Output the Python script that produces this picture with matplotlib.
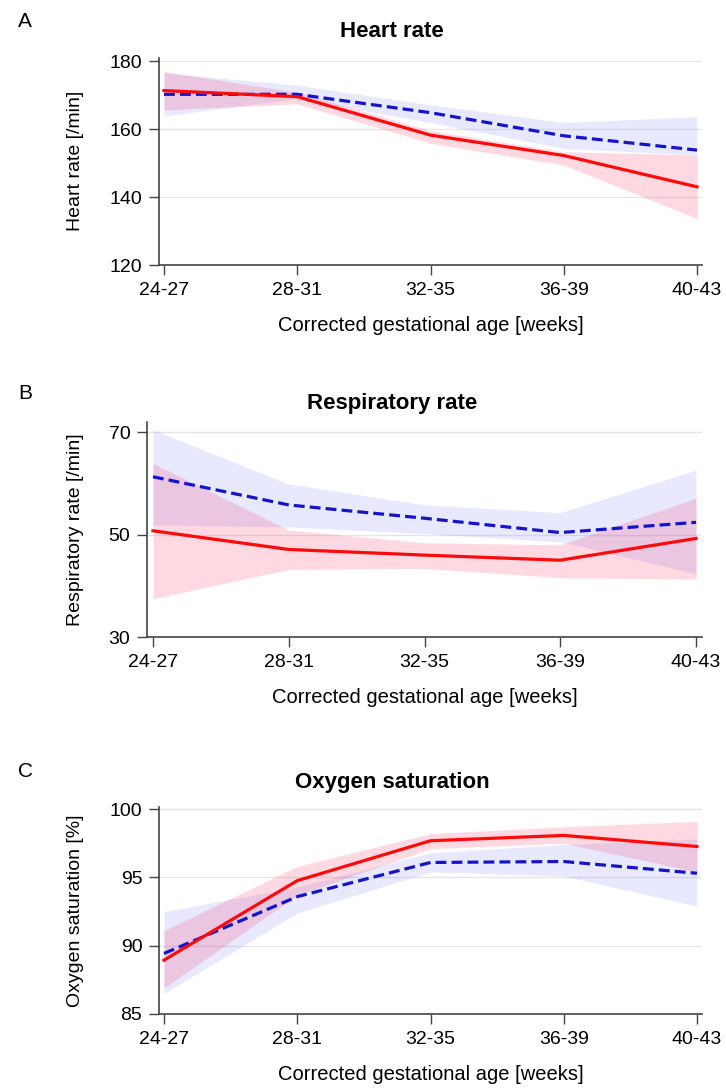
import numpy as np
import matplotlib.pyplot as plt

plt.rcParams['font.family'] = ['Liberation Sans', 'DejaVu Sans']

# Données
ages = ['24-27', '28-31', '32-35', '36-39', '40-43']

hr_red = [171.3, 169.5, 158.2, 152.2, 143.0]
hr_red_lo = [165.6, 167.4, 155.8, 149.4, 133.7]
hr_red_hi = [176.9, 170.8, 159.5, 153.3, 152.4]
hr_blue = [170.2, 170.2, 164.8, 158.0, 153.8]
hr_blue_lo = [163.8, 169.0, 161.9, 154.3, 152.4]
hr_blue_hi = [176.5, 172.9, 167.1, 161.9, 163.6]

rr_red = [50.75, 47.1, 46.0, 45.0, 49.25]
rr_red_lo = [37.5, 43.2, 43.4, 41.6, 41.3]
rr_red_hi = [63.9, 50.9, 48.4, 48.0, 57.1]
rr_blue = [61.3, 55.8, 53.2, 50.4, 52.4]
rr_blue_lo = [51.9, 51.5, 50.2, 48.6, 42.4]
rr_blue_hi = [70.5, 59.9, 55.8, 54.3, 62.6]

sat_red = [88.94, 94.76, 97.68, 98.07, 97.26]
sat_red_lo = [86.9, 93.7, 97.1, 97.5, 95.4]
sat_red_hi = [91.1, 95.8, 98.2, 98.7, 99.1]
sat_blue = [89.43, 93.59, 96.09, 96.16, 95.30]
sat_blue_lo = [86.5, 92.4, 95.4, 95.1, 92.9]
sat_blue_hi = [92.5, 94.3, 96.8, 97.4, 97.8]

W, H = 726, 1088
fig = plt.figure(figsize=(W / 100, H / 100), dpi=100)

# (lettre, titre, ylabel, [gauche, droite, haut, bas] en px, ylim, yticks, xlim gauche, baselines lettre/titre)
panels = [
    ('A', 'Heart rate', 'Heart rate [/min]', (159, 702, 57.6, 265), (120, 181), [120, 140, 160, 180], -0.0375,
     hr_red, hr_red_lo, hr_red_hi, hr_blue, hr_blue_lo, hr_blue_hi, 27, 37),
    ('B', 'Respiratory rate', 'Respiratory rate [/min]', (147, 702, 422, 637), (30, 72), [30, 50, 70], -0.044,
     rr_red, rr_red_lo, rr_red_hi, rr_blue, rr_blue_lo, rr_blue_hi, 399, 409),
    ('C', 'Oxygen saturation', 'Oxygen saturation [%]', (159, 702, 807, 1014), (85, 100.15), [85, 90, 95, 100], -0.0375,
     sat_red, sat_red_lo, sat_red_hi, sat_blue, sat_blue_lo, sat_blue_hi, 777, 788),
]

x = np.arange(len(ages))
for (lettre, titre, ylab, box, ylim, yt, x0,
     r, rlo, rhi, b, blo, bhi, y_lettre, y_titre) in panels:
    l, rgt, top, bot = box
    ax = fig.add_axes([l / W, 1 - bot / H, (rgt - l) / W, (bot - top) / H])
    ax.fill_between(x, blo, bhi, color='#4646ff', alpha=0.12, lw=0)
    ax.fill_between(x, rlo, rhi, color='#ff1f50', alpha=0.17, lw=0)
    ax.plot(x, b, color='#1414c8', lw=2.3, ls=(0, (3.4, 1.6)))
    ax.plot(x, r, color='#ff0a0a', lw=2.3)
    ax.set_xlim(x0, 4 - x0)
    ax.set_ylim(*ylim)
    ax.set_yticks(yt)
    ax.set_xticks(x)
    ax.set_xticklabels(ages)
    ax.grid(axis='y', color='#e6e6e6', lw=1)
    ax.set_axisbelow(True)
    for s in ['top', 'right']:
        ax.spines[s].set_visible(False)
    for s in ['left', 'bottom']:
        ax.spines[s].set_color('#444444')
        ax.spines[s].set_linewidth(1.2)
    ax.tick_params(colors='#444444', labelcolor='black', labelsize=14, length=7, width=1, pad=5)
    ax.set_xlabel('Corrected gestational age [weeks]', fontsize=14.5, va='top')
    ax.xaxis.set_label_coords(0.5, -51 / (bot - top))
    # ylabel et titres alignés sur la figure
    fig.text(75 / W, 1 - (top + bot) / 2 / H, ylab, rotation=90, ha='center', va='center', fontsize=14)
    fig.text(392 / W, 1 - y_titre / H, titre, ha='center', va='baseline', fontsize=16, fontweight='bold')
    fig.text(18 / W, 1 - y_lettre / H, lettre, ha='left', va='baseline', fontsize=15)

fig.savefig('out.png', dpi=100)
